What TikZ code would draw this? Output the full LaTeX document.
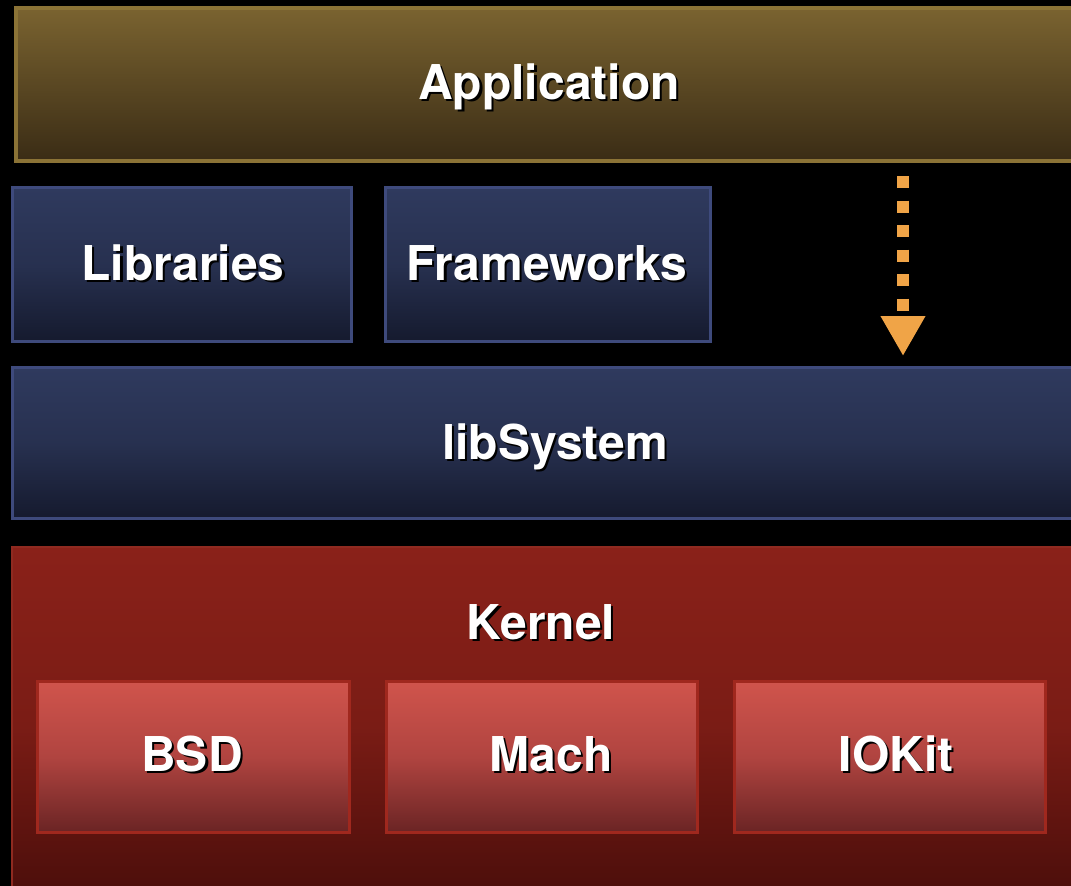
\documentclass[tikz,border=0pt]{standalone}
\usepackage{fontspec}
\setmainfont{TeX Gyre Heros}
\usetikzlibrary{arrows.meta}
\definecolor{appTop}{HTML}{7A6330}
\definecolor{appBot}{HTML}{3A2C15}
\definecolor{appLine}{HTML}{8B7336}
\definecolor{bluTop}{HTML}{2F3A5E}
\definecolor{bluBot}{HTML}{151A2E}
\definecolor{bluLine}{HTML}{3E4A7C}
\definecolor{kerTop}{HTML}{8A2119}
\definecolor{kerMid}{HTML}{7A1C15}
\definecolor{kerBot}{HTML}{480D0A}
\definecolor{kerLine}{HTML}{8F2A20}
\definecolor{subTop}{HTML}{D0544C}
\definecolor{subMid}{HTML}{B04440}
\definecolor{subBot}{HTML}{6A2424}
\definecolor{subLine}{HTML}{A0281E}
\definecolor{arrowOrange}{HTML}{F0A447}
\tikzset{
  layerbox/.style={rectangle, anchor=north west, inner sep=0pt, outer sep=0pt},
  appbox/.style={layerbox, draw=appLine, line width=4pt, top color=appTop, bottom color=appBot},
  bluebox/.style={layerbox, draw=bluLine, line width=3pt, top color=bluTop, bottom color=bluBot, middle color=bluTop!70!bluBot},
  kernelbox/.style={layerbox, draw=kerLine, line width=2pt, top color=kerTop, bottom color=kerBot, middle color=kerMid},
  subbox/.style={layerbox, draw=subLine, line width=3pt, top color=subTop, bottom color=subBot, middle color=subMid},
  lbl/.style={anchor=base, inner sep=0pt, font=\fontsize{48}{50}\selectfont\bfseries},
  lblshadow/.style={lbl, text=black},
  lbltext/.style={lbl, text=white},
  flowarrow/.style={draw=arrowOrange, line width=12pt, dash pattern=on 12pt off 12.5pt,
    -{Triangle[width=42pt,length=40pt,fill=arrowOrange]}}
}
\newcommand{\shlabel}[4]{%
  \node[lblshadow] (#1s) at (#2+2.2,#3+2.2) {#4};
  \node[lbltext] (#1) at (#2,#3) {#4};}
\begin{document}
\begin{tikzpicture}[x=1pt,y=-1pt]
\fill[black] (0,0) rectangle (1071,886);
\useasboundingbox (0,0) rectangle (1071,886);
\clip (0,0) rectangle (1071,886);
% boxes
\node[appbox, minimum width=1070pt, minimum height=153pt] (app) at (16,8) {};
\node[bluebox, minimum width=339pt, minimum height=154pt] (libs) at (12.5,187.5) {};
\node[bluebox, minimum width=325pt, minimum height=154pt] (fw) at (385.5,187.5) {};
\node[bluebox, minimum width=1070pt, minimum height=151pt] (libsys) at (12.5,367.5) {};
\node[kernelbox, minimum width=1070pt, minimum height=360pt] (kernel) at (12,547) {};
\node[subbox, minimum width=312pt, minimum height=151pt] (bsd) at (37.5,681.5) {};
\node[subbox, minimum width=311pt, minimum height=151pt] (mach) at (386.5,681.5) {};
\node[subbox, minimum width=311pt, minimum height=151pt] (iokit) at (734.5,681.5) {};
% labels
\shlabel{appT}{549}{99}{Application}
\shlabel{libsT}{183}{280}{Libraries}
\shlabel{fwT}{547}{280}{Frameworks}
\shlabel{libsysT}{555}{459}{libSystem}
\shlabel{kerT}{541}{639}{Kernel}
\shlabel{bsdT}{192}{771}{BSD}
\shlabel{machT}{551}{771}{Mach}
\shlabel{iokitT}{896}{771}{IOKit}
% arrow
\coordinate (arrS) at (903,176);
\coordinate (arrE) at (903,356);
\draw[flowarrow] (arrS) -- (arrE);
\end{tikzpicture}
\end{document}
